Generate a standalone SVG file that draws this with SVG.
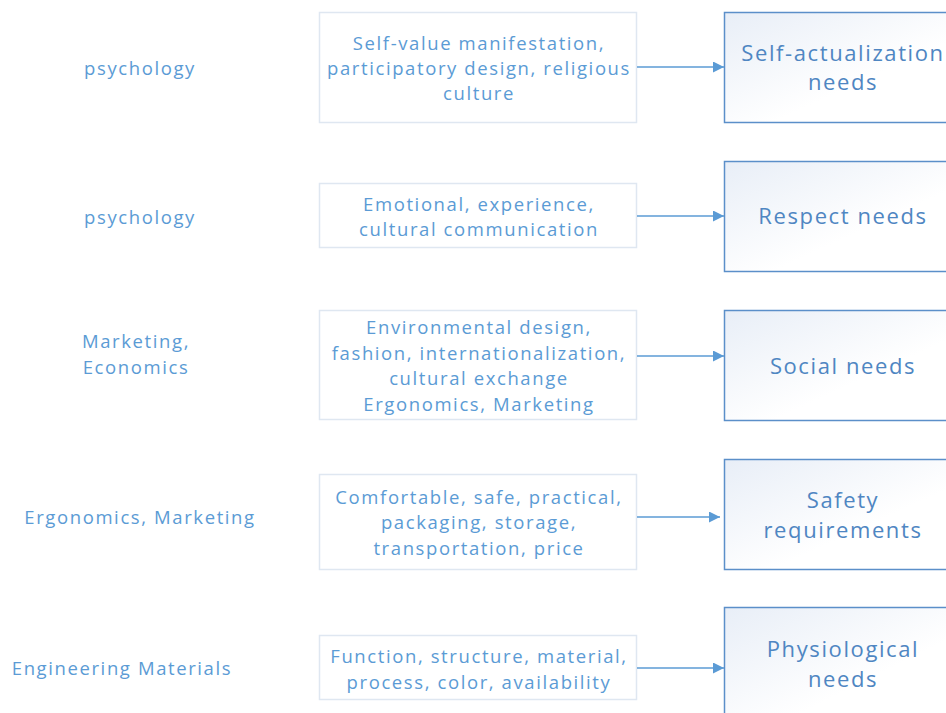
<svg xmlns="http://www.w3.org/2000/svg" width="946" height="713" viewBox="0 0 946 713">
  <style>
    text { font-family: "Open Sans", Lato, "Liberation Sans", sans-serif; text-anchor: middle; dominant-baseline: central; }
    .lbl { fill: #5b9bd5; font-size: 18.5px; letter-spacing: 1.6px; }
    .mid { fill: #5b9bd5; font-size: 18.5px; letter-spacing: 1.6px; }
    .need { fill: #4f86c2; font-size: 22px; letter-spacing: 1.6px; }
    .mbox { fill: #ffffff; stroke: #dfe7f1; stroke-width: 1.5; }
    .nbox { fill: url(#needFill); stroke: #5b8fc9; stroke-width: 1.5; }
    .conn { stroke: #5b9bd5; stroke-width: 1.5; fill: none; marker-end: url(#arrow); }
  </style>
  <defs>
    <linearGradient id="needFill" x1="0" y1="0" x2="1" y2="1">
      <stop offset="0" stop-color="#e8eef7"/>
      <stop offset="0.6" stop-color="#ffffff"/>
    </linearGradient>
    <marker id="arrow" viewBox="0 0 10 10" refX="10" refY="5" markerWidth="15" markerHeight="11" markerUnits="userSpaceOnUse" orient="auto">
      <path d="M0,0 L10,5 L0,10 z" fill="#5b9bd5"/>
    </marker>
  </defs>

  <!-- discipline labels -->
  <g id="label-1"><text class="lbl" x="140" y="67">psychology</text></g>
  <g id="label-2"><text class="lbl" x="140" y="216">psychology</text></g>
  <g id="label-3"><text class="lbl" x="136" y="340">Marketing,</text><text class="lbl" x="136" y="366">Economics</text></g>
  <g id="label-4"><text class="lbl" x="140" y="516">Ergonomics, Marketing</text></g>
  <g id="label-5"><text class="lbl" x="122" y="667">Engineering Materials</text></g>

  <!-- design factor boxes -->
  <g id="factors-1">
    <rect class="mbox" x="319.5" y="12.5" width="317" height="110"/>
    <text class="mid" x="479" y="42">Self-value manifestation,</text>
    <text class="mid" x="479" y="67">participatory design, religious</text>
    <text class="mid" x="479" y="92">culture</text>
  </g>
  <g id="factors-2">
    <rect class="mbox" x="319.5" y="183.5" width="317" height="64"/>
    <text class="mid" x="479" y="203">Emotional, experience,</text>
    <text class="mid" x="479" y="228">cultural communication</text>
  </g>
  <g id="factors-3">
    <rect class="mbox" x="319.5" y="310.5" width="317" height="109"/>
    <text class="mid" x="479" y="326">Environmental design,</text>
    <text class="mid" x="479" y="352">fashion, internationalization,</text>
    <text class="mid" x="479" y="377">cultural exchange</text>
    <text class="mid" x="479" y="403">Ergonomics, Marketing</text>
  </g>
  <g id="factors-4">
    <rect class="mbox" x="319.5" y="474.5" width="317" height="95"/>
    <text class="mid" x="479" y="496">Comfortable, safe, practical,</text>
    <text class="mid" x="479" y="521">packaging, storage,</text>
    <text class="mid" x="479" y="547">transportation, price</text>
  </g>
  <g id="factors-5">
    <rect class="mbox" x="319.5" y="635.5" width="317" height="64"/>
    <text class="mid" x="479" y="655">Function, structure, material,</text>
    <text class="mid" x="479" y="681">process, color, availability</text>
  </g>

  <!-- need levels -->
  <g id="need-1">
    <rect class="nbox" x="724.5" y="12.5" width="240" height="110"/>
    <text class="need" x="843" y="52">Self-actualization</text>
    <text class="need" x="843" y="81">needs</text>
  </g>
  <g id="need-2">
    <rect class="nbox" x="724.5" y="161.5" width="240" height="110"/>
    <text class="need" x="843" y="215">Respect needs</text>
  </g>
  <g id="need-3">
    <rect class="nbox" x="724.5" y="310.5" width="240" height="110"/>
    <text class="need" x="843" y="365">Social needs</text>
  </g>
  <g id="need-4">
    <rect class="nbox" x="724.5" y="459.5" width="240" height="110"/>
    <text class="need" x="843" y="499">Safety</text>
    <text class="need" x="843" y="529">requirements</text>
  </g>
  <g id="need-5">
    <rect class="nbox" x="724.5" y="607.5" width="240" height="120"/>
    <text class="need" x="843" y="648">Physiological</text>
    <text class="need" x="843" y="678">needs</text>
  </g>

  <!-- connectors -->
  <g id="connectors">
    <line class="conn" x1="637" y1="67" x2="724" y2="67"/>
    <line class="conn" x1="637" y1="216" x2="724" y2="216"/>
    <line class="conn" x1="637" y1="356" x2="724" y2="356"/>
    <line class="conn" x1="637" y1="517" x2="720" y2="517"/>
    <line class="conn" x1="637" y1="668" x2="724" y2="668"/>
  </g>
</svg>
